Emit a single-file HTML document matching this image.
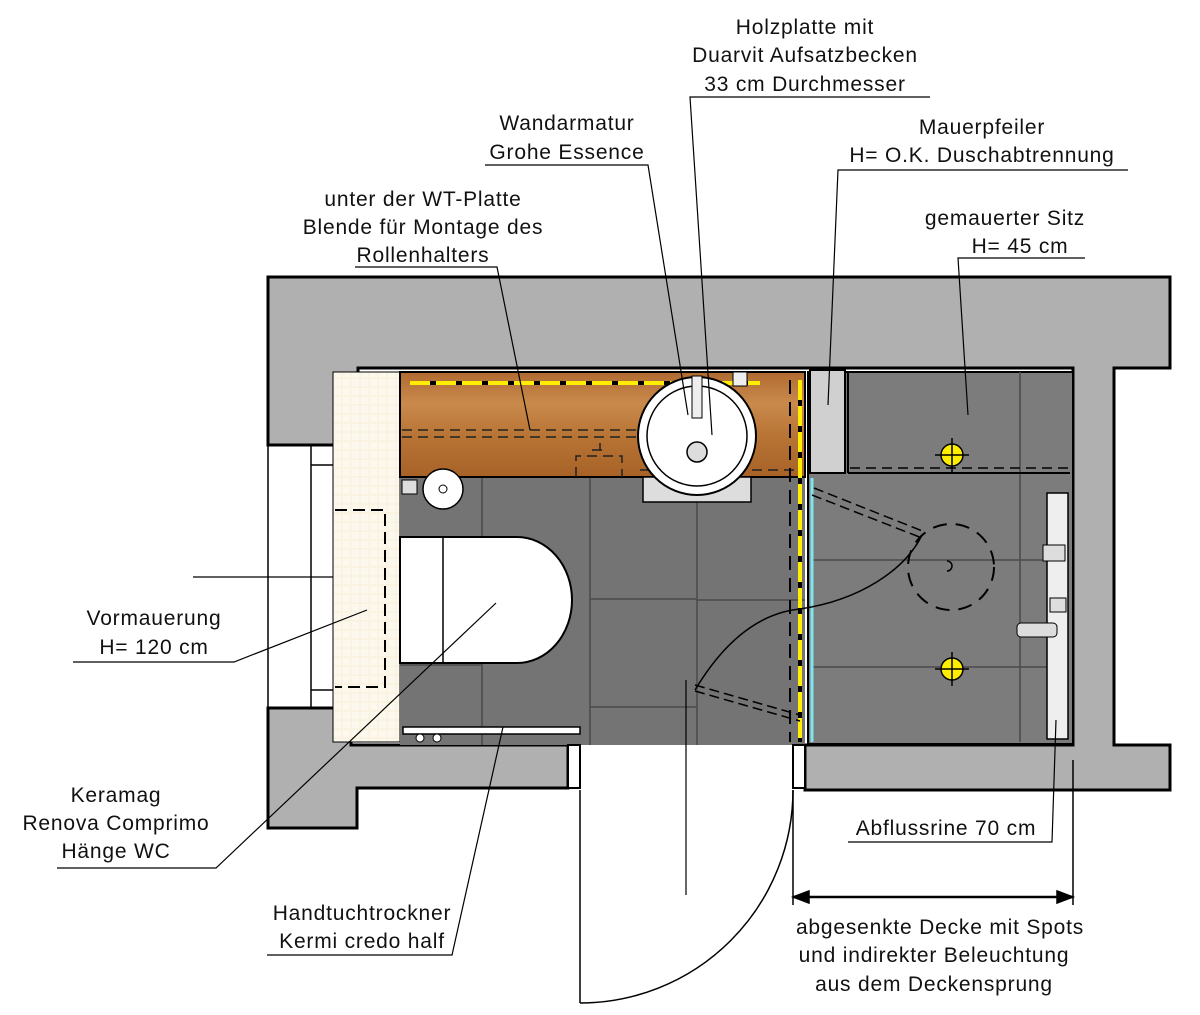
<!DOCTYPE html>
<html><head><meta charset="utf-8"><style>
html,body{margin:0;padding:0;background:#fff}
svg{display:block}
text{font-family:"Liberation Sans",sans-serif;font-size:21px;letter-spacing:0.8px;fill:#111;text-anchor:middle}
</style></head><body>
<svg width="1200" height="1015" viewBox="0 0 1200 1015" xmlns="http://www.w3.org/2000/svg">
<defs>
<linearGradient id="wood" x1="0" y1="0" x2="0" y2="1">
<stop offset="0" stop-color="#b06a30"/><stop offset=".3" stop-color="#c98a4c"/><stop offset=".6" stop-color="#b87535"/><stop offset="1" stop-color="#a86228"/>
</linearGradient>
<pattern id="mos" width="9" height="9" patternUnits="userSpaceOnUse"><rect width="9" height="9" fill="#fbf3e2"/><rect x="1" y="1" width="7" height="7" fill="#fdf8ee"/></pattern>
</defs>

<path d="M268 277 H1170 V368 H1114 V745 H1170 V790 H805 V745 H1073 V368 H358 V445 H268 Z" fill="#b0b0b0" stroke="#000" stroke-width="3"/>
<path d="M268 708 H351 V745 H568 V788 H357 V828 H268 Z" fill="#b0b0b0" stroke="#000" stroke-width="3"/>
<line x1="268" y1="445" x2="268" y2="708" stroke="#000" stroke-width="1.5"/>
<line x1="311" y1="445" x2="311" y2="708" stroke="#000" stroke-width="1.5"/>
<line x1="311" y1="465" x2="333" y2="465" stroke="#000" stroke-width="1.5"/>
<line x1="311" y1="690" x2="333" y2="690" stroke="#000" stroke-width="1.5"/>
<rect x="333" y="372" width="67" height="370" fill="url(#mos)" stroke="#000" stroke-width="1"/>
<path d="M335 510 H385 V687 H335" fill="none" stroke="#000" stroke-width="2" stroke-dasharray="12 6"/>
<rect x="400" y="477" width="405" height="268" fill="#747474"/>
<rect x="808" y="372" width="265" height="372" fill="#7c7c7c" stroke="#000" stroke-width="2"/>
<g stroke="#4a4a4a" stroke-width="1.5">
<line x1="482" y1="477" x2="482" y2="745"/><line x1="590" y1="477" x2="590" y2="745"/><line x1="697" y1="500" x2="697" y2="745"/>
<line x1="590" y1="599" x2="697" y2="599"/><line x1="697" y1="600" x2="805" y2="600"/><line x1="590" y1="707" x2="697" y2="707"/><line x1="400" y1="665" x2="482" y2="665"/>
<line x1="1020" y1="372" x2="1020" y2="742"/><line x1="812" y1="560" x2="1050" y2="560"/><line x1="812" y1="667" x2="1050" y2="667"/>
</g>
<rect x="400" y="372" width="405" height="105" fill="url(#wood)" stroke="#000" stroke-width="2"/>
<g stroke="#222" stroke-width="1.5" fill="none" stroke-dasharray="10 6">
<line x1="402" y1="430" x2="640" y2="430"/><line x1="402" y1="437" x2="640" y2="437"/>
<line x1="640" y1="470" x2="795" y2="470"/>
<path d="M576 477 V456 H622 V477"/><path d="M592 450 H608 M600 443 V450"/>
</g>
<line x1="410" y1="383" x2="760" y2="383" stroke="#000" stroke-width="4"/>
<line x1="410" y1="383" x2="760" y2="383" stroke="#ffee00" stroke-width="4" stroke-dasharray="20 6"/>
<line x1="800" y1="380" x2="800" y2="742" stroke="#000" stroke-width="4"/>
<line x1="800" y1="380" x2="800" y2="742" stroke="#ffee00" stroke-width="4" stroke-dasharray="20 6"/>
<line x1="790" y1="380" x2="790" y2="742" stroke="#000" stroke-width="2" stroke-dasharray="14 8"/>
<rect x="643" y="477" width="108" height="25" fill="#ddd" stroke="#000" stroke-width="1.5"/>
<circle cx="697" cy="436" r="59" fill="#fff" stroke="#000" stroke-width="2"/>
<circle cx="697" cy="436" r="50" fill="#fff" stroke="#000" stroke-width="1.5"/>
<circle cx="697" cy="452" r="10" fill="#ddd" stroke="#000" stroke-width="1.5"/>
<rect x="692" y="376" width="10" height="42" fill="#eee" stroke="#000"/>
<rect x="733" y="372" width="14" height="14" fill="#eee" stroke="#000"/>
<rect x="810" y="370" width="35" height="103" fill="#d0d0d0" stroke="#000" stroke-width="2"/>
<line x1="848" y1="473" x2="1070" y2="473" stroke="#000" stroke-width="2"/>
<line x1="850" y1="468" x2="1068" y2="468" stroke="#000" stroke-width="1.5" stroke-dasharray="10 6"/>
<line x1="848" y1="372" x2="848" y2="473" stroke="#000" stroke-width="2"/>
<line x1="812" y1="478" x2="812" y2="742" stroke="#7fe6f0" stroke-width="3"/>
<path d="M814 488 L925 532 M812 495 L922 538" stroke="#000" stroke-width="1.5" stroke-dasharray="10 5" fill="none"/>
<path d="M695 690 Q740 615 800 609 C860 600 905 570 922 535" fill="none" stroke="#000" stroke-width="1.5"/>
<circle cx="951" cy="567" r="43" fill="none" stroke="#000" stroke-width="2" stroke-dasharray="14 9"/>
<path d="M947 561 a5 5 0 1 1 0 10" fill="none" stroke="#000" stroke-width="1.5"/>
<g stroke="#000" stroke-width="1.5"><circle cx="952" cy="455" r="11" fill="#ffee00"/><line x1="935" y1="455" x2="969" y2="455"/><line x1="952" y1="438" x2="952" y2="472"/>
<circle cx="952" cy="669" r="11" fill="#ffee00"/><line x1="935" y1="669" x2="969" y2="669"/><line x1="952" y1="652" x2="952" y2="686"/></g>
<rect x="1047" y="493" width="21" height="246" fill="#eee" stroke="#000" stroke-width="1.5"/>
<rect x="1043" y="545" width="22" height="16" fill="#ddd" stroke="#000"/>
<rect x="1050" y="598" width="16" height="14" fill="#ddd" stroke="#000"/>
<rect x="1017" y="623" width="40" height="14" rx="4" fill="#ddd" stroke="#000"/>
<rect x="402" y="480" width="15" height="14" fill="#ddd" stroke="#000"/>
<circle cx="443" cy="489" r="20" fill="#fff" stroke="#000" stroke-width="1.5"/>
<circle cx="443" cy="489" r="4" fill="#fff" stroke="#000"/>
<path d="M400 537 H517 A55 63 0 0 1 517 663 H400 Z" fill="#fff" stroke="#000" stroke-width="2"/>
<line x1="443" y1="537" x2="443" y2="663" stroke="#000" stroke-width="1.5"/>
<rect x="403" y="727" width="177" height="7" fill="#fff" stroke="#000" stroke-width="1.5"/>
<circle cx="420" cy="738" r="4" fill="#fff" stroke="#000"/><circle cx="437" cy="738" r="4" fill="#fff" stroke="#000"/>
<rect x="568" y="745" width="12" height="43" fill="#fff" stroke="#000" stroke-width="2"/>
<rect x="793" y="745" width="12" height="43" fill="#fff" stroke="#000" stroke-width="2"/>
<line x1="580" y1="790" x2="580" y2="1003" stroke="#000" stroke-width="1.5"/>
<path d="M580 1003 A213 213 0 0 0 793 790" fill="none" stroke="#000" stroke-width="1.5"/>
<path d="M695 685 L800 715 M695 691 L800 721" stroke="#000" stroke-width="1.5" stroke-dasharray="10 5" fill="none"/>
<g stroke="#000" stroke-width="1.5" fill="#000">
<line x1="793" y1="790" x2="793" y2="905"/><line x1="1073" y1="760" x2="1073" y2="905"/>
<line x1="793" y1="897" x2="1073" y2="897" stroke-width="2.5"/>
<path d="M793 897 l16 -6 v12 z"/><path d="M1073 897 l-16 -6 v12 z"/>
</g>
<g stroke="#000" stroke-width="1.2" fill="none">
<path d="M930 97 H690 L712 435"/>
<path d="M485 165 H648 L688 415"/>
<path d="M1128 170 H838 L828 405"/>
<path d="M1085 258 H958 L968 415"/>
<path d="M355 267 H497 L530 430"/>
<path d="M73 662 H234 L367 610"/>
<path d="M193 577 H333"/>
<path d="M57 868 H216 L496 603"/>
<path d="M267 955 H452 L503 727"/>
<path d="M848 842 H1052 L1056 720"/>
<path d="M686 680 V895"/>
</g>
<text x="805" y="34">Holzplatte mit</text>
<text x="805" y="62">Duarvit Aufsatzbecken</text>
<text x="805" y="91">33 cm Durchmesser</text>
<text x="567" y="130">Wandarmatur</text>
<text x="567" y="159">Grohe Essence</text>
<text x="982" y="134">Mauerpfeiler</text>
<text x="982" y="162">H= O.K. Duschabtrennung</text>
<text x="1005" y="225">gemauerter Sitz</text>
<text x="1020" y="253">H= 45 cm</text>
<text x="423" y="206">unter der WT-Platte</text>
<text x="423" y="234">Blende für Montage des</text>
<text x="423" y="262">Rollenhalters</text>
<text x="154" y="625">Vormauerung</text>
<text x="154" y="654">H= 120 cm</text>
<text x="116" y="802">Keramag</text>
<text x="116" y="830">Renova Comprimo</text>
<text x="116" y="858">Hänge WC</text>
<text x="362" y="920">Handtuchtrockner</text>
<text x="362" y="948">Kermi credo half</text>
<text x="946" y="835">Abflussrine 70 cm</text>
<text x="940" y="934">abgesenkte Decke mit Spots</text>
<text x="934" y="962">und indirekter Beleuchtung</text>
<text x="934" y="991">aus dem Deckensprung</text>
</svg>
</body></html>
